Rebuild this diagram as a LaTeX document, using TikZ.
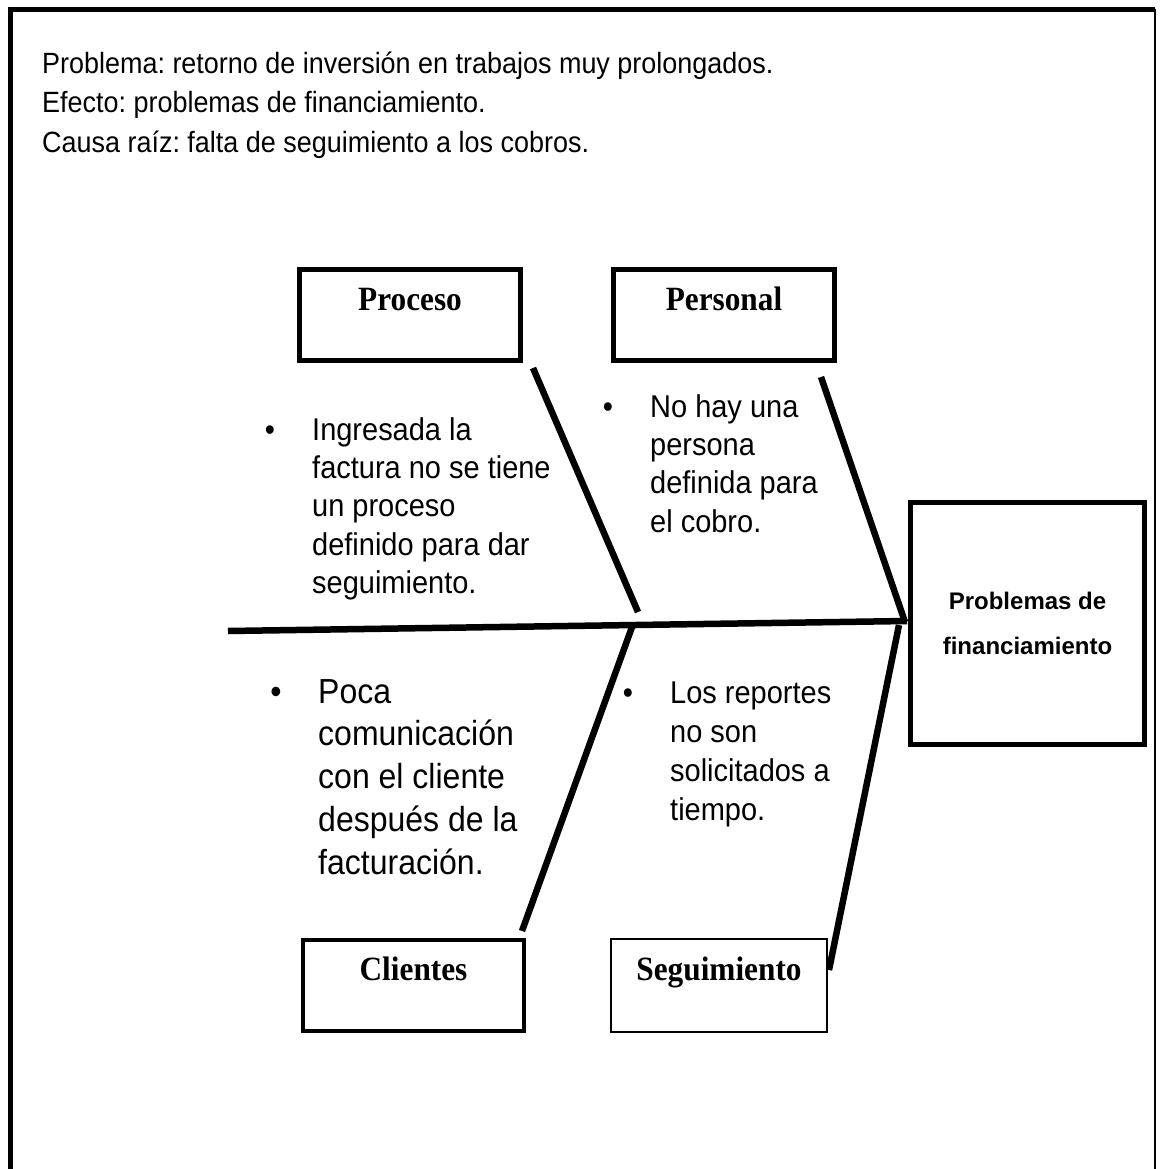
\documentclass[tikz,border=0pt]{standalone}
\usepackage{fontspec}
\setmainfont{Liberation Sans}[FakeStretch=0.92]
\newfontfamily\tnr{Liberation Serif}[FakeStretch=0.92]
\newfontfamily\arial{Liberation Sans}
\usetikzlibrary{positioning}
\frenchspacing

\newcommand{\renglones}[1]{\begin{tabular}[t]{@{}l@{}}#1\end{tabular}}

\begin{document}
\begin{tikzpicture}
  [x=1pt,y=-1pt,every node/.style={inner sep=0pt},
   causa/.style={draw,line width=4.5pt,minimum width=221pt,text height=23pt,text depth=33pt,
     inner ysep=17.5pt,font=\tnr\bfseries\fontsize{34}{38}\selectfont},
   espina/.style={line width=6.5pt},
   encabezado/.style={anchor=base west,font=\fontsize{29.3}{39}\selectfont},
   texto/.style={anchor=base west,font=\fontsize{31.5}{38.4}\selectfont},
   punto/.style={anchor=base,font=\fontsize{31.5}{38.4}\selectfont}]
  \useasboundingbox (0,0) rectangle (1159,1169);

  % marco
  \draw[line width=5pt] (10,1169) -- (10,9.5) -- (1155,9.5);
  \draw[line width=2.5pt] (1155,9.5) -- (1155,1169);

  % encabezado
  \node[encabezado] (problema) at (42,74) {Problema: retorno de inversión en trabajos muy prolongados.};
  \node[encabezado] (efectotxt) at (42,112.5) {Efecto: problemas de financiamiento.};
  \node[encabezado] (raiz) at (42,153) {Causa raíz: falta de seguimiento a los cobros.};

  % cajas
  \node[causa] (proc) at (410,315) {Proceso};
  \node[causa] (pers) at (724,315) {Personal};
  \node[causa] (cli) at (413.5,985.5) {Clientes};
  \node[causa,line width=2pt,minimum width=216pt,inner ysep=18.5pt] (seg) at (719,985.5) {Seguimiento};
  \node[draw,line width=4.5pt,minimum width=234pt,minimum height=242pt,align=center,
    font=\arial\bfseries\fontsize{24}{45}\selectfont] (efecto) at (1027.5,623.5) {Problemas de\\financiamiento};

  % espinas
  \coordinate (cola) at (228,631);
  \coordinate (cabeza) at (907,621);
  \coordinate (procA) at (533,368);
  \coordinate (procB) at (638,612);
  \coordinate (persA) at (821,377);
  \coordinate (persB) at (905,622);
  \coordinate (cliA) at (632,627);
  \coordinate (cliB) at (522,931);
  \coordinate (segA) at (899,625);
  \coordinate (segB) at (829,970);

  \foreach \from/\to in {cola/cabeza,procA/procB,persA/persB,cliA/cliB,segA/segB}
    \draw[espina] (\from) -- (\to);

  % causas
  \node[punto] (b1) at (270,440) {•};
  \node[texto] (t1) at (312,440) {\renglones{Ingresada la\\factura no se tiene\\un proceso\\definido para dar\\seguimiento.}};
  \node[punto] (b2) at (608,417) {•};
  \node[texto] (t2) at (650,417) {\renglones{No hay una\\persona\\definida para\\el cobro.}};
  \node[punto,font=\fontsize{34.8}{42.8}\selectfont] (b3) at (276,703) {•};
  \node[texto,font=\fontsize{34.8}{42.8}\selectfont] (t3) at (318,703) {\renglones{Poca\\comunicación\\con el cliente\\después de la\\facturación.}};
  \node[punto] (b4) at (628,703) {•};
  \node[texto,font=\fontsize{31.5}{39.3}\selectfont] (t4) at (670,703) {\renglones{Los reportes\\no son\\solicitados a\\tiempo.}};
\end{tikzpicture}
\end{document}
